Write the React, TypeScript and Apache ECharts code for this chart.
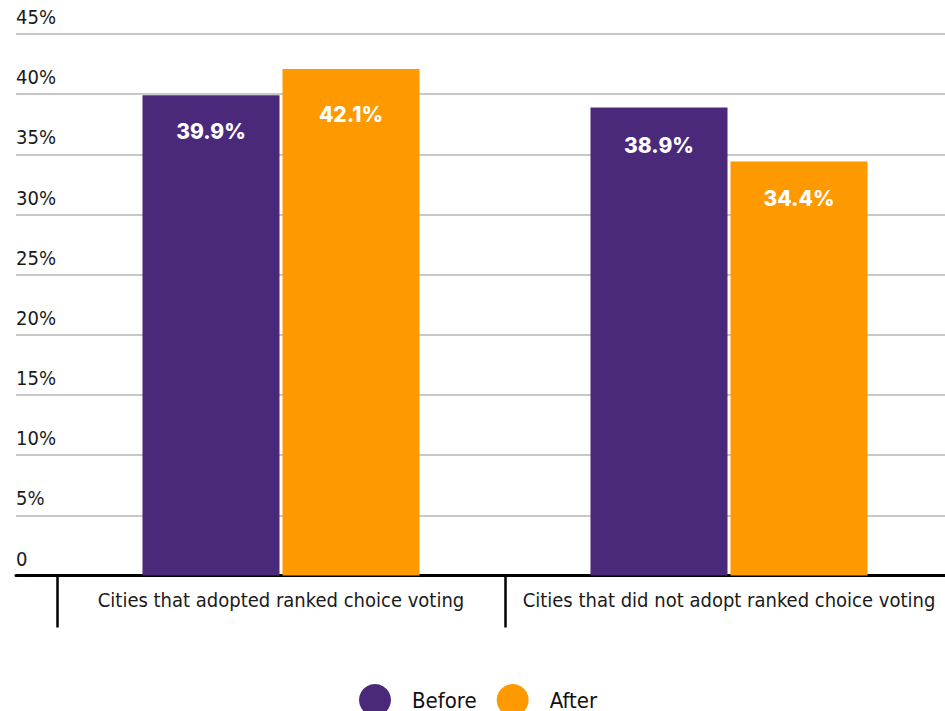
import React, { useEffect, useRef } from "react";
import * as echarts from "echarts";

const categories = [
  "Cities that adopted ranked choice voting",
  "Cities that did not adopt ranked choice voting",
];
const beforeValues = [39.9, 38.9];
const afterValues = [42.1, 34.4];
const seriesNames = ["Before", "After"];
const yMin = 0;
const yMax = 45;
const yInterval = 5;

const FONT = "'Liberation Sans Narrow', 'DejaVu Sans Condensed', 'Noto Sans', sans-serif";
const BOLD_FONT = "Inter, 'Open Sans', sans-serif";
const PURPLE = "#4a297b";
const ORANGE = "#fe9900";
const BEFORE_LABEL_DIST = [26, 28];
const AFTER_LABEL_DIST = [35, 26];

export default function App() {
  const ref = useRef<HTMLDivElement>(null);
  useEffect(() => {
    if (!ref.current) return;
    const chart = echarts.init(ref.current, undefined, { renderer: "svg" });
    const gridBottom = 711 - 575.5;
    const barLabel = {
      show: true,
      position: "insideTop",
      color: "#ffffff",
      fontFamily: BOLD_FONT,
      fontWeight: 800,
      fontSize: 21,
      formatter: (p: any) => p.value.toFixed(1) + "%",
    };
    const mk = (vals: number[], dists: number[]) =>
      vals.map((v, i) => ({ value: v, label: { distance: dists[i] } }));
    chart.setOption({
      animation: false,
      legend: {
        data: seriesNames,
        left: 354,
        top: 679,
        icon: "circle",
        itemWidth: 32,
        itemHeight: 32,
        itemGap: 20,
        textStyle: {
          fontFamily: FONT,
          fontSize: 22,
          color: "#111",
          padding: [0, 0, 0, 16],
        },
      },
      grid: [
        { left: 16, right: 0, top: 34, bottom: gridBottom, containLabel: false },
        { left: 57, right: 0, top: 34, bottom: gridBottom, containLabel: false },
      ],
      xAxis: [
        {
          gridIndex: 0,
          type: "value",
          min: 0,
          max: 1,
          axisLine: { show: true, lineStyle: { color: "#000", width: 3 } },
          axisTick: { show: false },
          axisLabel: { show: false },
          splitLine: { show: false },
        },
        {
          gridIndex: 1,
          type: "category",
          data: categories,
          axisLine: { show: false },
          axisTick: {
            show: true,
            interval: 0,
            length: 52,
            lineStyle: { color: "#000", width: 2.5 },
          },
          axisLabel: {
            interval: 0,
            margin: 14,
            fontFamily: FONT,
            fontSize: 20,
            color: "#1a1a1a",
          },
        },
      ],
      yAxis: [
        {
          gridIndex: 0,
          type: "value",
          min: yMin,
          max: yMax,
          interval: yInterval,
          axisLine: { show: false },
          axisTick: { show: false },
          splitLine: { show: true, lineStyle: { color: "#c8c8c8", width: 2 } },
          axisLabel: {
            inside: true,
            margin: 0,
            verticalAlign: "bottom",
            padding: [0, 0, 7, 0],
            fontFamily: FONT,
            fontSize: 20,
            color: "#1a1a1a",
            formatter: (v: number) => (v === 0 ? "0" : v + "%"),
          },
        },
        {
          gridIndex: 1,
          type: "value",
          min: yMin,
          max: yMax,
          interval: yInterval,
          show: false,
          splitLine: { show: false },
        },
      ],
      series: [
        {
          name: seriesNames[0],
          type: "bar",
          xAxisIndex: 1,
          yAxisIndex: 1,
          data: mk(beforeValues, BEFORE_LABEL_DIST),
          barWidth: 137,
          barGap: "2.2%",
          itemStyle: { color: PURPLE },
          label: barLabel,
        },
        {
          name: seriesNames[1],
          type: "bar",
          xAxisIndex: 1,
          yAxisIndex: 1,
          data: mk(afterValues, AFTER_LABEL_DIST),
          barWidth: 137,
          barGap: "2.2%",
          itemStyle: { color: ORANGE },
          label: barLabel,
        },
      ],
    });
    return () => chart.dispose();
  }, []);
  return (
    <div
      style={{
        position: "absolute",
        left: 0,
        top: 0,
        width: 945,
        height: 711,
        overflow: "hidden",
      }}
    >
      <div ref={ref} style={{ width: 953, height: 711 }} />
    </div>
  );
}
